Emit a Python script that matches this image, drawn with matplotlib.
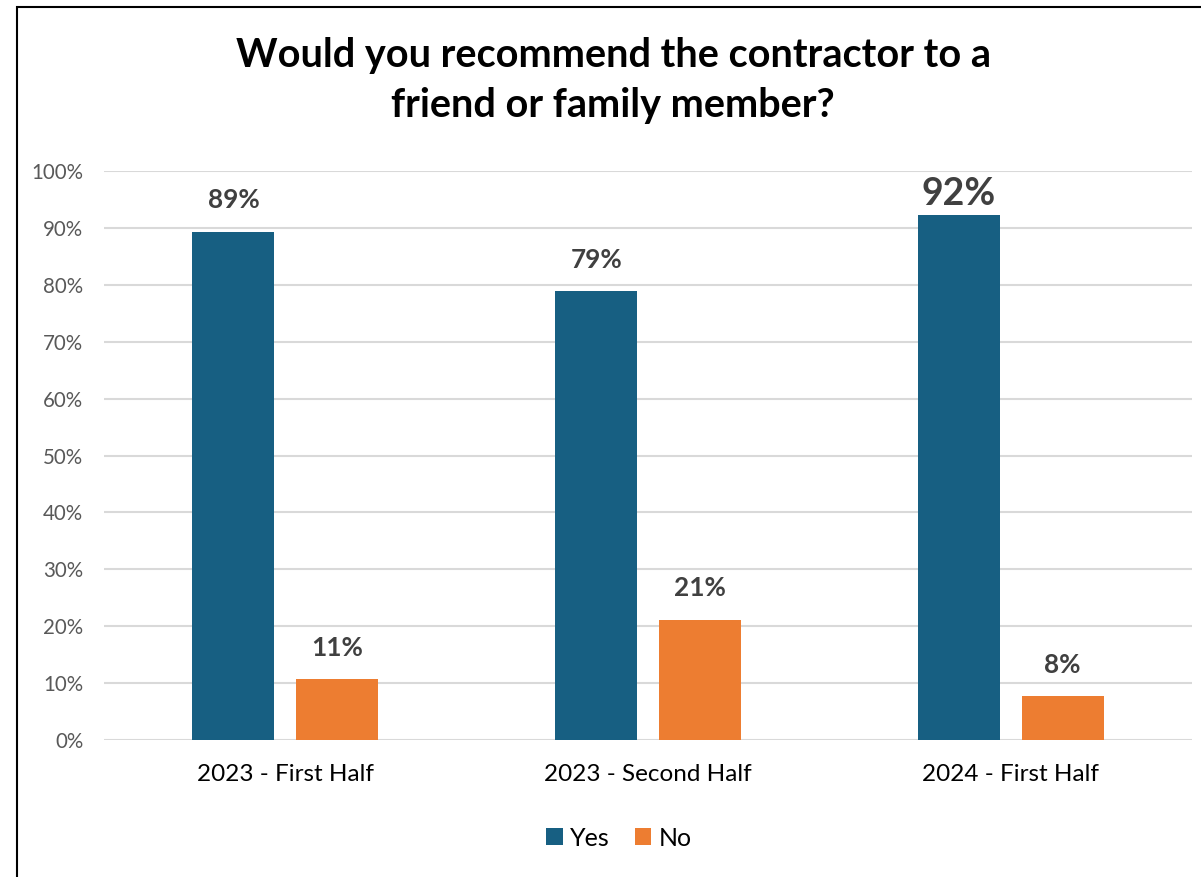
import matplotlib.pyplot as plt
from matplotlib.patches import Rectangle
import numpy as np

categories = ["2023 - First Half", "2023 - Second Half", "2024 - First Half"]
yes_vals = [89.3, 78.9, 92.3]
no_vals = [10.7, 21.1, 7.7]
series_names = ["Yes", "No"]
yticks = [0, 10, 20, 30, 40, 50, 60, 70, 80, 90, 100]

BLUE = "#175F82"
ORANGE = "#ED7D31"
LABEL = "#404040"

plt.rcParams['font.family'] = ['Lato', 'DejaVu Sans']

W, H = 1201, 877
fig = plt.figure(figsize=(W/100, H/100), dpi=100)

# chart frame
fig.add_artist(Rectangle((17/W, -0.05), 1.2, 1 - 7/H + 0.05, transform=fig.transFigure,
                         fill=False, edgecolor='black', linewidth=1.5))

ax = fig.add_axes([104/W, 1 - 740/H, (1192-104)/W, (740-171)/H])
x = np.arange(len(categories))
bw = 0.226
off = 0.143
b1 = ax.bar(x - off, yes_vals, bw, color=BLUE, label=series_names[0], zorder=3)
b2 = ax.bar(x + off, no_vals, bw, color=ORANGE, label=series_names[1], zorder=3)

ax.set_xlim(-0.5, 2.5)
ax.set_ylim(0, 100)
ax.set_yticks(yticks)
ax.set_yticklabels([f"{t}%" for t in yticks], color="#595959", fontsize=14.8)
ax.set_xticks(x)
ax.set_xticklabels(categories, fontsize=17.5, color="black")
ax.tick_params(axis='both', length=0)
ax.tick_params(axis='y', pad=15)
ax.tick_params(axis='x', pad=17)
ax.grid(axis='y', color='#D9D9D9', linewidth=1.5, zorder=0)
for s in ax.spines.values():
    s.set_visible(False)

for i, v in enumerate(yes_vals):
    big = (i == 2)
    ax.annotate(f"{round(v)}%", (x[i] - off, v), xytext=(0, 3 if big else 14),
                textcoords='offset points', ha='center', va='bottom',
                fontsize=27 if big else 18.8, fontweight='bold', color=LABEL)
for i, v in enumerate(no_vals):
    ax.annotate(f"{round(v)}%", (x[i] + off, v), xytext=(0, 14),
                textcoords='offset points', ha='center', va='bottom',
                fontsize=18.8, fontweight='bold', color=LABEL)

fig.text(613/W, 1 - 55/H, "Would you recommend the contractor to a", ha='center', va='center',
         fontsize=28.5, fontweight='bold', color='black')
fig.text(613/W, 1 - 105/H, "friend or family member?", ha='center', va='center',
         fontsize=28.5, fontweight='bold', color='black')

fig.legend(handles=[b1, b2], labels=series_names, loc='center', bbox_to_anchor=(619/W, 1 - 838/H),
           ncol=2, frameon=False, fontsize=18, handlelength=0.65, handleheight=0.65,
           handletextpad=0.3, columnspacing=1.0)

fig.savefig("out.png", dpi=100)
